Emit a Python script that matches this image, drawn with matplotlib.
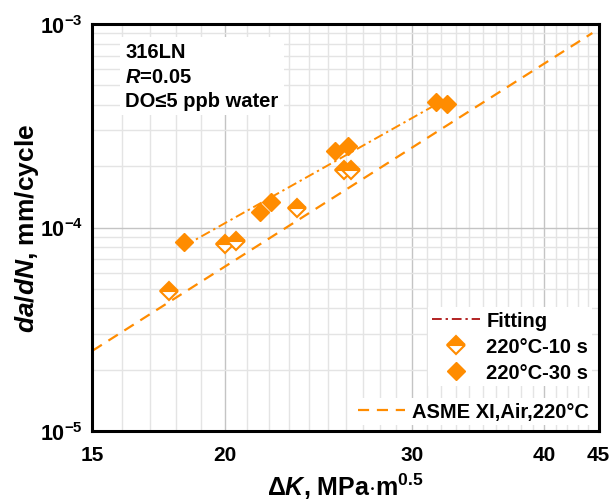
import matplotlib
matplotlib.use('Agg')
import matplotlib.pyplot as plt
from matplotlib.lines import Line2D
from matplotlib.ticker import FixedLocator, FixedFormatter, NullFormatter

plt.rcParams['font.family'] = ['Liberation Sans', 'DejaVu Sans']
plt.rcParams['font.weight'] = 'bold'
plt.rcParams['axes.labelweight'] = 'bold'
plt.rcParams['mathtext.fontset'] = 'custom'
plt.rcParams['mathtext.rm'] = 'Liberation Sans:bold'
plt.rcParams['mathtext.bf'] = 'Liberation Sans:bold'
plt.rcParams['mathtext.it'] = 'Liberation Sans:italic:bold'

# 220C, hold time 10 s (half-filled)
dk_10s = [17.7, 20.0, 20.5, 23.4, 25.9, 26.3]
dadn_10s = [4.9e-5, 8.3e-5, 8.6e-5, 1.24e-4, 1.92e-4, 1.92e-4]

# 220C, hold time 30 s (filled)
dk_30s = [18.3, 21.6, 22.1, 25.4, 26.1, 31.6, 32.4]
dadn_30s = [8.5e-5, 1.19e-4, 1.33e-4, 2.39e-4, 2.52e-4, 4.12e-4, 4.04e-4]

# fitting line end points
fit_dk = [18.3, 32.0]
fit_dadn = [8.1e-5, 4.16e-4]

# ASME XI air curve end points
asme_dk = [15.0, 44.4]
asme_dadn = [2.48e-5, 9.03e-4]

x_ticks = [15, 20, 30, 40, 45]
y_ticks = [1e-5, 1e-4, 1e-3]
y_labels = [r'$\mathbf{10^{-5}}$', r'$\mathbf{10^{-4}}$', r'$\mathbf{10^{-3}}$']

orange = '#FF8C00'

fig = plt.figure(figsize=(6.14, 5.02), dpi=100)
ax = fig.add_axes([0.1506, 0.1394, 0.8242, 0.8108])
ax.set_xscale('log')
ax.set_yscale('log')
ax.set_xlim(15, 45)
ax.set_ylim(1e-5, 1e-3)

ax.plot(asme_dk, asme_dadn, color=orange, lw=1.6, linestyle=(0, (5, 3.5)), zorder=2)
ax.plot(fit_dk, fit_dadn, color=orange, lw=1.4, linestyle=(0, (5, 2, 1.2, 2)), zorder=2)
ax.plot(dk_10s, dadn_10s, 'D', ms=9, fillstyle='top', markerfacecolor=orange,
        markerfacecoloralt='white', markeredgecolor=orange, markeredgewidth=1.5,
        linestyle='none', zorder=3)
ax.plot(dk_30s, dadn_30s, 'D', ms=9, color=orange, linestyle='none', zorder=3)

ax.xaxis.set_major_locator(FixedLocator(x_ticks))
ax.xaxis.set_major_formatter(FixedFormatter([str(t) for t in x_ticks]))
ax.xaxis.set_minor_locator(FixedLocator([v for v in range(16, 45) if v not in x_ticks]))
ax.xaxis.set_minor_formatter(NullFormatter())
ax.yaxis.set_major_locator(FixedLocator(y_ticks))
ax.yaxis.set_major_formatter(FixedFormatter(y_labels))
ax.yaxis.set_minor_locator(FixedLocator([m * 10.0 ** e for e in (-5, -4) for m in range(2, 10)]))
ax.yaxis.set_minor_formatter(NullFormatter())

ax.grid(True, which='major', color='#c4c4c4', lw=1.0)
ax.grid(True, which='minor', color='#e4e4e4', lw=1.0)
ax.set_axisbelow(True)
ax.tick_params(which='both', length=0)
ax.tick_params(axis='x', pad=10, labelsize=15)
ax.tick_params(axis='y', pad=7, labelsize=15.5)
for s in ax.spines.values():
    s.set_linewidth(2.2)
    s.set_color('black')

ax.set_xlabel(r'$\Delta K$, MPa$\cdot$m$^{0.5}$', fontsize=18, labelpad=5)
ax.set_ylabel(r'$da/dN$, mm/cycle', fontsize=19, labelpad=-1)

ax.text(0.065, 0.955, '316LN\n$R$=0.05\nDO≤5 ppb water', transform=ax.transAxes,
        fontsize=14.5, va='top', ha='left', linespacing=1.35,
        bbox=dict(facecolor='white', edgecolor='none', pad=4))

handles1 = [Line2D([], [], color='#B22222', lw=1.4, linestyle=(0, (5, 2, 1.2, 2))),
            Line2D([], [], marker='D', ms=9, fillstyle='top', markerfacecolor=orange,
                   markerfacecoloralt='white', markeredgecolor=orange,
                   markeredgewidth=1.5, linestyle='none'),
            Line2D([], [], marker='D', ms=9, color=orange, linestyle='none')]
leg1 = ax.legend(handles1, ['Fitting', '220°C-10 s', '220°C-30 s'],
                 loc='lower right', bbox_to_anchor=(1.0, 0.095), fontsize=14.5,
                 frameon=True, facecolor='white', edgecolor='none', framealpha=1,
                 fancybox=False, handlelength=2.4, handletextpad=0.3,
                 labelspacing=0.35, borderpad=0.2, borderaxespad=0.3)
ax.add_artist(leg1)
handles2 = [Line2D([], [], color=orange, lw=1.6, linestyle=(0, (5, 3.5)))]
ax.legend(handles2, ['ASME XI,Air,220°C'], loc='lower right',
          bbox_to_anchor=(1.0, 0.0), fontsize=14.5, frameon=True,
          facecolor='white', edgecolor='none', framealpha=1, fancybox=False,
          handlelength=2.3, handletextpad=0.35, borderpad=0.2, borderaxespad=0.3)

fig.savefig('out.png', dpi=100)
